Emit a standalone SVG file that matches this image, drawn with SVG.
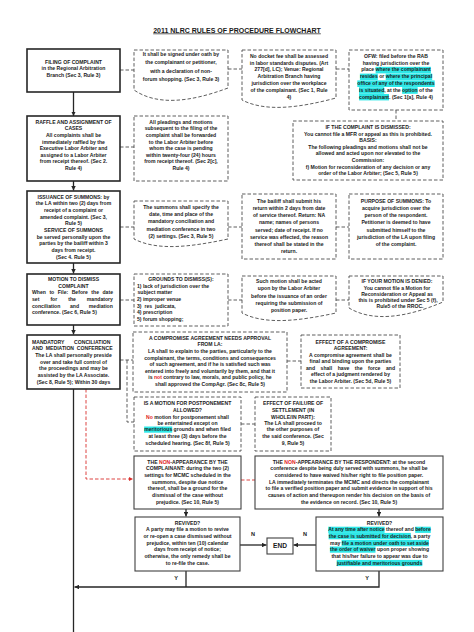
<svg xmlns="http://www.w3.org/2000/svg" width="474" height="632" viewBox="0 0 474 632">
<style>
.t{font-family:"Liberation Sans",Arial,sans-serif;font-size:5.1px;font-weight:bold;fill:#1a1a1a;text-anchor:middle}
.l{text-anchor:start}
.ttl{font-size:7px;text-decoration:underline}
.sb{fill:#fff;stroke:#262626;stroke-width:1.6}
.sb2{fill:#fff;stroke:#404040;stroke-width:1.1}
.db{fill:#fff;stroke:#4d4d4d;stroke-width:0.9;stroke-dasharray:3.5 2}
.dc{fill:none;stroke:#4d4d4d;stroke-width:0.9;stroke-dasharray:3.5 2}
.rc{fill:none;stroke:#d9302c;stroke-width:0.9;stroke-dasharray:3.5 2}
.ac{fill:none;stroke:#262626;stroke-width:1.3}
.hl{fill:#2ee8e8}
.red{fill:#e0201c}
.lbl{font-size:5.6px}
</style>
<defs>
<marker id="arr" viewBox="0 0 6 6" refX="6" refY="3" markerWidth="4.5" markerHeight="4.5" markerUnits="userSpaceOnUse" orient="auto"><path d="M0,0 L6,3 L0,6 z" fill="#262626"/></marker>
<marker id="arrR" viewBox="0 0 6 6" refX="6" refY="3" markerWidth="4" markerHeight="4" markerUnits="userSpaceOnUse" orient="auto"><path d="M0,0 L6,3 L0,6 z" fill="#d9302c"/></marker>
</defs>
<rect width="474" height="632" fill="#fff"/>
<text class="t ttl" x="237" y="32.5">2011 NLRC RULES OF PROCEDURE FLOWCHART</text>

<g id="connectors">
<path class="ac" d="M73.5,92 V116" marker-end="url(#arr)"/>
<path class="ac" d="M73.5,181 V190.5" marker-end="url(#arr)"/>
<path class="ac" d="M73.5,263 V273.5" marker-end="url(#arr)"/>
<path class="ac" d="M73.5,325 V334.5" marker-end="url(#arr)"/>
<path class="ac" d="M73.5,389 V632"/>
<path class="ac" d="M186,509 V516.5" marker-end="url(#arr)"/>
<path class="ac" d="M379,509 V516.5" marker-end="url(#arr)"/>
<path class="ac" d="M240,545 H266.5" marker-end="url(#arr)"/>
<path class="ac" d="M316,545 H293.5" marker-end="url(#arr)"/>
<path class="ac" d="M186,571 V587"/>
<path class="ac" d="M379,571 V587 H74.5" marker-end="url(#arr)"/>
<path class="dc" d="M120,70 H134"/>
<path class="dc" d="M228,69 H242"/>
<path class="dc" d="M336,69 H349"/>
<path class="dc" d="M396,110 V121"/>
<path class="dc" d="M120,147 H134"/>
<path class="dc" d="M120,227 H134"/>
<path class="dc" d="M228,227 H242"/>
<path class="dc" d="M336,227 H349"/>
<path class="dc" d="M120,300 H134"/>
<path class="dc" d="M228,300 H242"/>
<path class="dc" d="M336,300 H349"/>
<path class="dc" d="M120,360 H133 M127,360 V422 H134"/>
<path class="dc" d="M287,361 H301"/>
<path class="dc" d="M241,424 H255"/>
<path class="rc" d="M241,480 H255"/>
<path class="rc" d="M86,389 V479 H133" marker-end="url(#arrR)"/>
</g>

<g id="filing">
<rect class="sb" x="27" y="49" width="93" height="43"/>
<text class="t" x="73.5" y="63.5">FILING OF COMPLAINT</text>
<text class="t" x="73.5" y="70">in the Regional Arbitration</text>
<text class="t" x="73.5" y="76.8">Branch (Sec 3, Rule 3)</text>
</g>

<g id="oath">
<path class="db" d="M134,50 H228 V88 C190.4,102 157.5,106 134,90 Z"/>
<text class="t" x="181" y="56.3">It shall be signed under oath by</text>
<text class="t" x="181" y="64.3">the complainant or petitioner,</text>
<text class="t" x="181" y="72.5">with a declaration of non-</text>
<text class="t" x="181" y="80.8">forum shopping. (Sec 3, Rule 3)</text>
</g>

<g id="docket">
<path class="db" d="M242,50 H336 V98 C298.4,108 265.5,112 242,100 Z"/>
<text class="t" x="289" y="57.8">No docket fee shall be assessed</text>
<text class="t" x="289" y="64.6">in labor standards disputes. (Art</text>
<text class="t" x="289" y="71.4">277[d], LC); Venue: Regional</text>
<text class="t" x="289" y="78.2">Arbitration Branch having</text>
<text class="t" x="289" y="85">jurisdiction over the workplace</text>
<text class="t" x="289" y="91.8">of the complainant. (Sec 1, Rule</text>
<text class="t" x="289" y="98.6">4)</text>
</g>

<g id="ofw">
<rect class="db" x="349" y="50" width="94" height="60"/>
<rect class="hl" x="375.6" y="66.8" width="55.3" height="6.6"/>
<rect class="hl" x="359.9" y="73.6" width="17.9" height="6.6"/>
<rect class="hl" x="385.7" y="73.6" width="46.5" height="6.6"/>
<rect class="hl" x="357.3" y="80.4" width="77.4" height="6.6"/>
<rect class="hl" x="359" y="87.2" width="25.2" height="6.6"/>
<rect class="hl" x="402.1" y="87.2" width="15.6" height="6.6"/>
<rect class="hl" x="359" y="94" width="30" height="6.4"/>
<text class="t" x="396" y="57.8">OFW: filed before the RAB</text>
<text class="t" x="396" y="64.6">having jurisdiction over the</text>
<text class="t" x="396" y="71.4">place where the complainant</text>
<text class="t" x="396" y="78.2">resides or where the principal</text>
<text class="t" x="396" y="85">office of any of the respondents</text>
<text class="t" x="396" y="91.8">is situated, at the option of the</text>
<text class="t" x="396" y="98.6">complainant. (Sec 1[a], Rule 4)</text>
</g>

<g id="raffle">
<rect class="sb" x="27" y="116" width="93" height="65"/>
<text class="t" x="73.5" y="123.8">RAFFLE AND ASSIGNMENT OF</text>
<text class="t" x="73.5" y="130.4">CASES</text>
<text class="t" x="73.5" y="137">All complaints shall be</text>
<text class="t" x="73.5" y="143.6">immediately raffled by the</text>
<text class="t" x="73.5" y="150.2">Executive Labor Arbiter and</text>
<text class="t" x="73.5" y="156.8">assigned to a Labor Arbiter</text>
<text class="t" x="73.5" y="163.4">from receipt thereof. (Sec 2.</text>
<text class="t" x="73.5" y="170">Rule 4)</text>
</g>

<g id="pleadings">
<rect class="db" x="134" y="116" width="94" height="65"/>
<text class="t" x="181" y="123.8">All pleadings and motions</text>
<text class="t" x="181" y="130.4">subsequent to the filing of the</text>
<text class="t" x="181" y="137">complaint shall be forwarded</text>
<text class="t" x="181" y="143.6">to the Labor Arbiter before</text>
<text class="t" x="181" y="150.2">whom the case is pending</text>
<text class="t" x="181" y="156.8">within twenty-four (24) hours</text>
<text class="t" x="181" y="163.4">from receipt thereof. (Sec 2[c],</text>
<text class="t" x="181" y="170">Rule 4)</text>
</g>

<g id="dismissed">
<rect class="db" x="293" y="121" width="150" height="59"/>
<text class="t" x="368" y="129.1">IF THE COMPLAINT IS DISMISSED:</text>
<text class="t" x="368" y="136.1">You cannot file a MFR or appeal as this is prohibited.</text>
<text class="t" x="368" y="142.1">BASIS:</text>
<text class="t" x="368" y="148.5">The following pleadings and motions shall not be</text>
<text class="t" x="368" y="155.1">allowed and acted upon nor elevated to the</text>
<text class="t" x="368" y="161.8">Commission:</text>
<text class="t" x="368" y="168.5">f) Motion for reconsideration of any decision or any</text>
<text class="t" x="368" y="174.5">order of the Labor Arbiter; (Sec 5, Rule 5)</text>
</g>

<g id="issuance">
<rect class="sb" x="27" y="191" width="93" height="72"/>
<text class="t" x="73.5" y="198.5">ISSUANCE OF SUMMONS: by</text>
<text class="t" x="73.5" y="205.2">the LA within two (2) days from</text>
<text class="t" x="73.5" y="211.8">receipt of a complaint or</text>
<text class="t" x="73.5" y="218.5">amended complaint. (Sec 3,</text>
<text class="t" x="73.5" y="225.2">Rule 5)</text>
<text class="t" x="73.5" y="231.8">SERVICE OF SUMMONS</text>
<text class="t" x="73.5" y="238.5">be served personally upon the</text>
<text class="t" x="73.5" y="245.2">parties by the bailiff within 3</text>
<text class="t" x="73.5" y="251.8">days from receipt.</text>
<text class="t" x="73.5" y="258.5">(Sec 4. Rule 5)</text>
</g>

<g id="summons">
<path class="db" d="M134,201 H228 V239 C190.4,247 157.5,251 134,239 Z"/>
<text class="t" x="181" y="208.8">The summons shall specify the</text>
<text class="t" x="181" y="216">date, time and place of the</text>
<text class="t" x="181" y="223.3">mandatory conciliation and</text>
<text class="t" x="181" y="230.8">mediation conference in two</text>
<text class="t" x="181" y="238.3">(2) settings. (Sec 3, Rule 5)</text>
</g>

<g id="bailiff">
<rect class="db" x="242" y="194" width="94" height="65"/>
<text class="t" x="289" y="202.8">The bailiff shall submit his</text>
<text class="t" x="289" y="210">return within 2 days from date</text>
<text class="t" x="289" y="217.2">of service thereof. Return: NA</text>
<text class="t" x="289" y="224.4">name; names of persons</text>
<text class="t" x="289" y="231.6">served; date of receipt. If no</text>
<text class="t" x="289" y="238.8">service was effected, the reason</text>
<text class="t" x="289" y="246">thereof shall be stated in the</text>
<text class="t" x="289" y="253.2">return.</text>
</g>

<g id="purpose">
<rect class="db" x="349" y="194" width="94" height="65"/>
<text class="t" x="396" y="202.8">PURPOSE OF SUMMONS: To</text>
<text class="t" x="396" y="210">acquire jurisdiction over the</text>
<text class="t" x="396" y="217.2">person of the respondent.</text>
<text class="t" x="396" y="224.4">Petitioner is deemed to have</text>
<text class="t" x="396" y="231.6">submitted himself to the</text>
<text class="t" x="396" y="238.8">jurisdiction of the LA upon filing</text>
<text class="t" x="396" y="246">of the complaint.</text>
</g>

<g id="motion">
<rect class="sb" x="27" y="274" width="93" height="51"/>
<text class="t" x="73.5" y="280.8">MOTION TO DISMISS</text>
<text class="t" x="73.5" y="287.5">COMPLAINT</text>
<text class="t l" x="32" y="294.1" style="word-spacing:2.1px">When to File: Before the date</text>
<text class="t l" x="32" y="300.8" style="word-spacing:9.6px">set for the mandatory</text>
<text class="t l" x="32" y="307.5" style="word-spacing:8.3px">conciliation and mediation</text>
<text class="t l" x="32" y="314.1">conference. (Sec 6, Rule 5)</text>
</g>

<g id="grounds">
<rect class="db" x="134" y="274" width="94" height="52"/>
<text class="t" x="181" y="280.8">GROUNDS TO DISMISS(S):</text>
<text class="t l" x="137" y="287.5">1) lack of jurisdiction over the</text>
<text class="t l" x="137.5" y="294.1">subject matter</text>
<text class="t l" x="137" y="300.8">2) improper venue</text>
<text class="t l" x="137" y="307.5" style="word-spacing:1.5px">3) res judicata,</text>
<text class="t l" x="137" y="314.1">4) prescription</text>
<text class="t l" x="137" y="320.8">5) forum shopping;</text>
</g>

<g id="suchmotion">
<path class="db" d="M242,276 H336 V313 C298.4,321 265.5,325 242,313 Z"/>
<text class="t" x="289" y="283.1">Such motion shall be acted</text>
<text class="t" x="289" y="290.4">upon by the Labor Arbiter</text>
<text class="t" x="289" y="297.7">before the issuance of an order</text>
<text class="t" x="289" y="305">requiring the submission of</text>
<text class="t" x="289" y="312.3">position paper.</text>
</g>

<g id="denied">
<path class="db" d="M349,276 H443 V302 C405.4,318 372.5,322 349,308 Z"/>
<text class="t" x="397" y="283.3">IF YOUR MOTION IS DENIED:</text>
<text class="t" x="397" y="289.6">You cannot file a Motion for</text>
<text class="t" x="397" y="295.8">Reconsideration or Appeal as</text>
<text class="t" x="398" y="302">this is prohibited under Sec 5 (f),</text>
<text class="t" x="400" y="308.3">Rule5 of the RROC.</text>
</g>

<g id="mandatory">
<rect class="sb" x="27" y="335" width="93" height="54"/>
<text class="t l" x="32" y="343.5" style="word-spacing:8.3px">MANDATORY CONCILIATION</text>
<text class="t l" x="32" y="350.1" style="word-spacing:1.4px">AND MEDIATION CONFERENCE</text>
<text class="t" x="73.5" y="356.8">The LA shall personally preside</text>
<text class="t" x="73.5" y="363.5">over and take full control of</text>
<text class="t" x="73.5" y="370.1">the proceedings and may be</text>
<text class="t" x="73.5" y="376.8">assisted by the LA Associate.</text>
<text class="t" x="73.5" y="383.5">(Sec 8, Rule 5); Within 30 days</text>
</g>

<g id="compromise">
<rect class="db" x="133" y="332" width="154" height="60"/>
<text class="t" x="210" y="339.8">A COMPROMISE AGREEMENT NEEDS APPROVAL</text>
<text class="t" x="210" y="346.3">FROM LA:</text>
<text class="t" x="210" y="353.3">LA shall to explain to the parties, particularly to the</text>
<text class="t" x="210" y="359.8">complainant, the terms, conditions and consequences</text>
<text class="t" x="210" y="366.3">of such agreement, and if he is satisfied such was</text>
<text class="t" x="210" y="372.8">entered into freely and voluntarily by them, and that it</text>
<text class="t" x="210" y="379.3">is <tspan class="red">not</tspan> contrary to law, morals, and public policy, he</text>
<text class="t" x="210" y="385.8">shall approved the CompAgr. (Sec 8c, Rule 5)</text>
</g>

<g id="effect">
<rect class="db" x="301" y="335" width="99" height="53"/>
<text class="t" x="350.5" y="343.8">EFFECT OF A COMPROMISE</text>
<text class="t" x="350.5" y="350.1">AGREEMENT:</text>
<text class="t" x="350.5" y="356.8">A compromise agreement shall be</text>
<text class="t" x="350.5" y="363.3">final and binding upon the parties</text>
<text class="t l" x="306" y="369.8" style="word-spacing:4.1px">and shall have the force and</text>
<text class="t" x="350.5" y="376.3">effect of a judgment rendered by</text>
<text class="t" x="350.5" y="382.8">the Labor Arbiter. (Sec 5d, Rule 5)</text>
</g>

<g id="postponement">
<rect class="db" x="134" y="397" width="107" height="54"/>
<rect class="hl" x="144.1" y="426.5" width="28.1" height="6.2"/>
<text class="t" x="187.5" y="405.1">IS A MOTION FOR POSTPONEMENT</text>
<text class="t" x="187.5" y="411.8">ALLOWED?</text>
<text class="t" x="187.5" y="418.5"><tspan class="red">No</tspan> motion for postponement shall</text>
<text class="t" x="187.5" y="424.8">be entertained except on</text>
<text class="t" x="187.5" y="431.1">meritorious grounds and when filed</text>
<text class="t" x="187.5" y="437.8">at least three (3) days before the</text>
<text class="t" x="187.5" y="444.5">scheduled hearing. (Sec 8f, Rule 5)</text>
</g>

<g id="failure">
<rect class="db" x="255" y="397" width="76" height="54"/>
<text class="t" x="293" y="405.1">EFFECT OF FAILURE OF</text>
<text class="t" x="293" y="411.8">SETTLEMENT (IN</text>
<text class="t" x="293" y="418.5">WHOLE/IN PART):</text>
<text class="t" x="293" y="424.8">The LA shall proceed to</text>
<text class="t" x="293" y="431.1">the other purposes of</text>
<text class="t" x="293" y="437.8">the said conference. (Sec</text>
<text class="t" x="293" y="444.5">9, Rule 5)</text>
</g>

<g id="complainant">
<rect class="sb2" x="134" y="456" width="107" height="53"/>
<text class="t" x="187.5" y="463.5">THE <tspan class="red">NON</tspan>-APPEARANCE BY THE</text>
<text class="t" x="187.5" y="470.1">COMPLAINANT:  during the two (2)</text>
<text class="t" x="187.5" y="476.8">settings for MCMC scheduled in the</text>
<text class="t" x="187.5" y="483.5">summons, despite due notice</text>
<text class="t" x="187.5" y="490.1">thereof, shall be a ground for the</text>
<text class="t" x="187.5" y="496.8">dismissal of the case without</text>
<text class="t" x="187.5" y="503.5">prejudice. (Sec 10, Rule 5)</text>
</g>

<g id="respondent">
<rect class="sb2" x="255" y="456" width="188" height="53"/>
<text class="t" x="349" y="463.5">THE <tspan class="red">NON</tspan>-APPEARANCE BY THE RESPONDENT:  at the second</text>
<text class="t" x="349" y="470.1">conference despite being duly served  with summons, he shall be</text>
<text class="t" x="349" y="476.8">considered to have waived his/her right to file position paper.</text>
<text class="t" x="349" y="483.5">LA immediately terminates the MCMC and directs the complainant</text>
<text class="t" x="349" y="490.1">to file a verified position paper and submit evidence in support of his</text>
<text class="t" x="349" y="496.8">causes of action and thereupon render his decision on the basis of</text>
<text class="t" x="349" y="503.5">the evidence on record. (Sec 10, Rule 5)</text>
</g>

<g id="revived-complainant">
<rect class="sb2" x="135" y="517" width="105" height="54"/>
<text class="t" x="187.5" y="525.1">REVIVED?</text>
<text class="t" x="187.5" y="531.3">A party may file a motion to revive</text>
<text class="t" x="187.5" y="537.5">or re-open a case dismissed  without</text>
<text class="t" x="187.5" y="544.5">prejudice, within ten (10) calendar</text>
<text class="t" x="187.5" y="551.1">days from receipt of notice;</text>
<text class="t" x="187.5" y="557.8">otherwise, the only remedy shall be</text>
<text class="t" x="187.5" y="564.5">to re-file the case.</text>
</g>

<g id="revived-respondent">
<rect class="sb2" x="316" y="517" width="127" height="54"/>
<rect class="hl" x="328.2" y="526.7" width="56.4" height="6.2"/>
<rect class="hl" x="415.2" y="526.7" width="15.6" height="6.2"/>
<rect class="hl" x="328.6" y="532.9" width="82.2" height="6.4"/>
<rect class="hl" x="341.6" y="539.9" width="87.4" height="6.4"/>
<rect class="hl" x="329.9" y="546.5" width="45.6" height="6.2"/>
<rect class="hl" x="336.7" y="559.9" width="85.6" height="6.2"/>
<text class="t" x="379.5" y="525.1">REVIVED?</text>
<text class="t" x="379.5" y="531.3">At any time after notice thereof and before</text>
<text class="t" x="379.5" y="537.5">the case is submitted for decision, a party</text>
<text class="t" x="379.5" y="544.5">may file a motion under oath to set aside</text>
<text class="t" x="379.5" y="551.1">the order of waiver upon proper showing</text>
<text class="t" x="379.5" y="557.8">that his/her failure to appear was due to</text>
<text class="t" x="379.5" y="564.5">justifiable and meritorious grounds</text>
</g>

<g id="end">
<rect class="sb2" x="267" y="538" width="26" height="16"/>
<text class="t" x="280" y="548.4" style="font-size:6.6px">END</text>
</g>

<g id="labels">
<text class="t lbl" x="253" y="536">N</text>
<text class="t lbl" x="305" y="536">N</text>
<text class="t lbl" x="176" y="580.3">Y</text>
<text class="t lbl" x="367" y="580.3">Y</text>
</g>
</svg>
